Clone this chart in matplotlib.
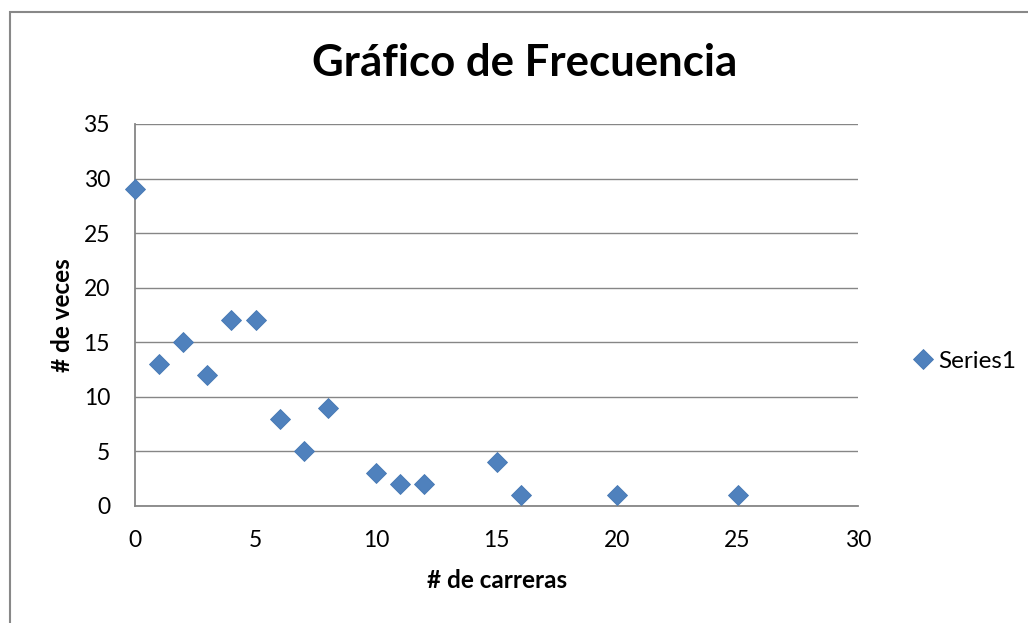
import matplotlib
matplotlib.use("Agg")
import matplotlib.pyplot as plt
from matplotlib.patches import Rectangle

carreras = [0, 1, 2, 3, 4, 5, 6, 7, 8, 10, 11, 12, 15, 16, 20, 25]
veces = [29, 13, 15, 12, 17, 17, 8, 5, 9, 3, 2, 2, 4, 1, 1, 1]
x_ticks = [0, 5, 10, 15, 20, 25, 30]
y_ticks = [0, 5, 10, 15, 20, 25, 30, 35]

plt.rcParams['font.family'] = ['Lato', 'DejaVu Sans']

fig = plt.figure(figsize=(10.28, 6.23), dpi=100)
fig.patch.set_facecolor('white')

# chart border (extends beyond right and bottom)
fig.patches.append(Rectangle((10/1028, -0.2), 2.0, 1 - 12/623 + 0.2,
                             transform=fig.transFigure, fill=False,
                             edgecolor='#888888', linewidth=1.5, zorder=0))

ax = fig.add_axes([135/1028, 1 - 506/623, (858 - 135)/1028, (506 - 124)/623])
ax.set_xlim(0, 30)
ax.set_ylim(0, 35)
ax.set_xticks(x_ticks)
ax.set_yticks(y_ticks)
ax.tick_params(length=0, labelsize=16.5, colors='black')
ax.tick_params(axis='x', pad=17)
ax.tick_params(axis='y', pad=18)
ax.yaxis.grid(True, color='#868686', linewidth=1.0)
ax.set_axisbelow(True)
for s in ['top', 'right']:
    ax.spines[s].set_visible(False)
for s in ['left', 'bottom']:
    ax.spines[s].set_color('#868686')
    ax.spines[s].set_linewidth(1.3)

ax.plot(carreras, veces, linestyle='none', marker='D', markersize=10,
        markerfacecolor='#4F81BD', markeredgecolor='#4577B3',
        markeredgewidth=0.6, label='Series1', clip_on=False, zorder=3)

fig.text(525/1028, 1 - 63/623, 'Gráfico de Frecuencia', ha='center', va='center',
         fontsize=31.5, fontweight='bold')
fig.text(497/1028, 1 - 581/623, '# de carreras', ha='center', va='center',
         fontsize=17.5, fontweight='bold')
fig.text(62/1028, 1 - 315/623, '# de veces', ha='center', va='center',
         fontsize=17.5, fontweight='bold', rotation=90)

leg = ax.legend(loc='center left', bbox_to_anchor=(914/1028, 1 - 361/623),
                bbox_transform=fig.transFigure, frameon=False, fontsize=17.5,
                handlelength=0.7, handletextpad=0.3, borderpad=0, borderaxespad=0)

fig.savefig('out.png', dpi=100)
